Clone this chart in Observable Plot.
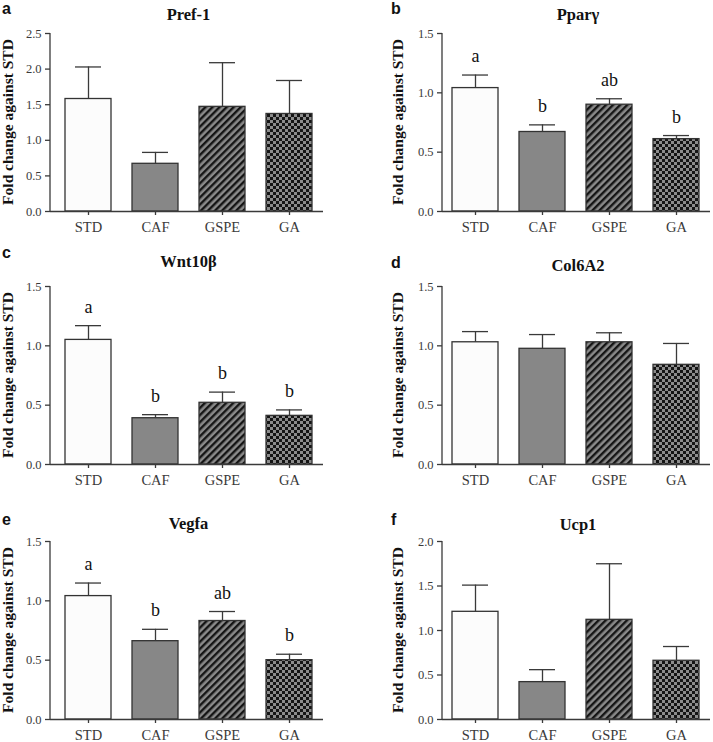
<!DOCTYPE html>
<html>
<head>
<meta charset="utf-8">
<script src="https://cdn.jsdelivr.net/npm/d3@7"></script>
<script src="https://cdn.jsdelivr.net/npm/@observablehq/plot@0.6"></script>
<style>
  html, body { margin: 0; padding: 0; background: #fff; }
  body { width: 713px; height: 742px; position: relative; overflow: hidden; }
  .abs { position: absolute; }
  .plbl { position: absolute; font-family: "Liberation Sans", Arial, sans-serif; font-weight: bold; font-size: 16px; color: #111; line-height: 1; }
  .ttl { position: absolute; font-family: "Liberation Serif", "Times New Roman", serif; font-weight: bold; font-size: 16.5px; color: #111; line-height: 1; transform: translateX(-50%); white-space: nowrap; }
  .ylbl { position: absolute; font-family: "Liberation Serif", "Times New Roman", serif; font-weight: bold; font-size: 15.5px; color: #111; line-height: 1; white-space: nowrap; transform: translate(-50%, -50%) rotate(-90deg); }
</style>
</head>
<body>
<svg width="0" height="0" style="position:absolute">
  <defs>
    <pattern id="hatch" patternUnits="userSpaceOnUse" width="5" height="5" patternTransform="rotate(45)">
      <rect x="0" y="0" width="5" height="5" fill="#8a8a8a"></rect>
      <rect x="0" y="0" width="2.4" height="5" fill="#151515"></rect>
    </pattern>
    <pattern id="checker" patternUnits="userSpaceOnUse" width="6" height="6">
      <rect x="0" y="0" width="6" height="6" fill="#8c8c8c"></rect>
      <rect x="0" y="0" width="3" height="3" fill="#151515"></rect>
      <rect x="3" y="3" width="3" height="3" fill="#151515"></rect>
    </pattern>
  </defs>
</svg>
<script>
// ---------------- data ----------------
const groups = ["STD", "CAF", "GSPE", "GA"];
const genes = ["Pref-1", "Pparγ", "Wnt10β", "Col6A2", "Vegfa", "Ucp1"];
const panelLetters = ["a", "b", "c", "d", "e", "f"];
const yLabel = "Fold change against STD";

const pref1Mean = [1.58, 0.67, 1.47, 1.37];
const pref1Sem  = [0.45, 0.16, 0.62, 0.47];
const pref1Sig  = ["", "", "", ""];

const ppargMean = [1.04, 0.67, 0.90, 0.61];
const ppargSem  = [0.11, 0.06, 0.05, 0.03];
const ppargSig  = ["a", "b", "ab", "b"];

const wnt10bMean = [1.05, 0.39, 0.52, 0.41];
const wnt10bSem  = [0.12, 0.03, 0.09, 0.05];
const wnt10bSig  = ["a", "b", "b", "b"];

const col6a2Mean = [1.03, 0.975, 1.03, 0.84];
const col6a2Sem  = [0.09, 0.12, 0.08, 0.18];
const col6a2Sig  = ["", "", "", ""];

const vegfaMean = [1.04, 0.66, 0.83, 0.50];
const vegfaSem  = [0.11, 0.10, 0.08, 0.05];
const vegfaSig  = ["a", "b", "ab", "b"];

const ucp1Mean = [1.21, 0.42, 1.12, 0.66];
const ucp1Sem  = [0.30, 0.14, 0.63, 0.16];
const ucp1Sig  = ["", "", "", ""];

const ticks15 = [0, 0.5, 1.0, 1.5];
const ticks20 = [0, 0.5, 1.0, 1.5, 2.0];
const ticks25 = [0, 0.5, 1.0, 1.5, 2.0, 2.5];

// ---------------- styles / layout ----------------
const groupFill = { STD: "#fcfcfc", CAF: "#878787", GSPE: "url(#hatch)", GA: "url(#checker)" };
const ink = "#3a3a3a";

const panels = [
  { mean: pref1Mean,  sem: pref1Sem,  sig: pref1Sig,  ticks: ticks25, col: 0, plotTop: 33,  lblY: 1,   ttlY: 7 },
  { mean: ppargMean,  sem: ppargSem,  sig: ppargSig,  ticks: ticks15, col: 1, plotTop: 33,  lblY: 1,   ttlY: 7 },
  { mean: wnt10bMean, sem: wnt10bSem, sig: wnt10bSig, ticks: ticks15, col: 0, plotTop: 286, lblY: 245, ttlY: 254 },
  { mean: col6a2Mean, sem: col6a2Sem, sig: col6a2Sig, ticks: ticks15, col: 1, plotTop: 286, lblY: 255, ttlY: 258 },
  { mean: vegfaMean,  sem: vegfaSem,  sig: vegfaSig,  ticks: ticks15, col: 0, plotTop: 541, lblY: 512, ttlY: 516 },
  { mean: ucp1Mean,   sem: ucp1Sem,   sig: ucp1Sig,   ticks: ticks20, col: 1, plotTop: 541, lblY: 512, ttlY: 517 }
];

const plotH = 178;
const mTop = 12;

function axisLine(index, scales, values, dims) {
  const ns = "http://www.w3.org/2000/svg";
  const l = document.createElementNS(ns, "line");
  l.setAttribute("x1", dims.marginLeft);
  l.setAttribute("x2", dims.marginLeft);
  l.setAttribute("y1", dims.marginTop);
  l.setAttribute("y2", dims.height - dims.marginBottom);
  l.setAttribute("stroke", ink);
  l.setAttribute("stroke-width", 1.3);
  return l;
}

panels.forEach((p, i) => {
  const data = groups.map((g, j) => ({ g, mean: p.mean[j], top: p.mean[j] + p.sem[j], sig: p.sig[j] }));
  const isLeft = p.col === 0;
  const svgLeft = isLeft ? 0 : 356;
  const width = isLeft ? 330 : 357;
  const marginLeft = isLeft ? 50 : 86;
  const marginRight = isLeft ? 7 : 3;
  const mBottom = 30;
  const height = mTop + plotH + mBottom;
  const yMax = p.ticks[p.ticks.length - 1];

  const chart = Plot.plot({
    width, height,
    marginLeft, marginRight, marginTop: mTop, marginBottom: mBottom,
    style: { fontFamily: "'Liberation Serif', 'Times New Roman', serif", color: ink, background: "transparent", overflow: "visible" },
    x: { domain: groups, paddingInner: 0.31, paddingOuter: 0.155, insetLeft: isLeft ? 4 : 0, label: null },
    y: { domain: [0, yMax], label: null },
    color: { type: "identity" },
    marks: [
      Plot.axisY({ ticks: p.ticks, tickFormat: d3.format(".1f"), tickSize: 5, tickPadding: 4, fontSize: 12.5, stroke: ink, strokeWidth: 1.3, label: null }),
      Plot.axisX({ tickSize: 4, tickPadding: 6, fontSize: 14.5, stroke: ink, strokeWidth: 1.3, label: null }),
      Plot.barY(data, { x: "g", y: "mean", fill: d => groupFill[d.g], stroke: "#333", strokeWidth: 1.3 }),
      Plot.ruleX(data, { x: "g", y1: "mean", y2: "top", stroke: ink, strokeWidth: 1.3 }),
      Plot.tickY(data, { x: "g", y: "top", insetLeft: 10, insetRight: 10, stroke: ink, strokeWidth: 1.3 }),
      Plot.text(data.filter(d => d.sig), { x: "g", y: "top", text: "sig", dy: -13, lineAnchor: "bottom", fontSize: 18, fill: "#111" }),
      Plot.ruleY([0], { stroke: ink, strokeWidth: 1.3 }),
      axisLine
    ]
  });
  chart.classList.add("abs");
  chart.style.left = svgLeft + "px";
  chart.style.top = (p.plotTop - mTop) + "px";
  document.body.appendChild(chart);

  const lbl = document.createElement("div");
  lbl.className = "plbl";
  lbl.textContent = panelLetters[i];
  lbl.style.left = (isLeft ? 2 : 391) + "px";
  lbl.style.top = p.lblY + "px";
  document.body.appendChild(lbl);

  const ttl = document.createElement("div");
  ttl.className = "ttl";
  ttl.textContent = genes[i];
  const plotCenter = svgLeft + marginLeft + (width - marginLeft - marginRight) / 2;
  ttl.style.left = (plotCenter + 2) + "px";
  ttl.style.top = p.ttlY + "px";
  document.body.appendChild(ttl);

  const yl = document.createElement("div");
  yl.className = "ylbl";
  yl.textContent = yLabel;
  yl.style.left = (isLeft ? 8 : 398) + "px";
  yl.style.top = (p.plotTop + plotH / 2) + "px";
  document.body.appendChild(yl);
});
</script>
</body>
</html>
